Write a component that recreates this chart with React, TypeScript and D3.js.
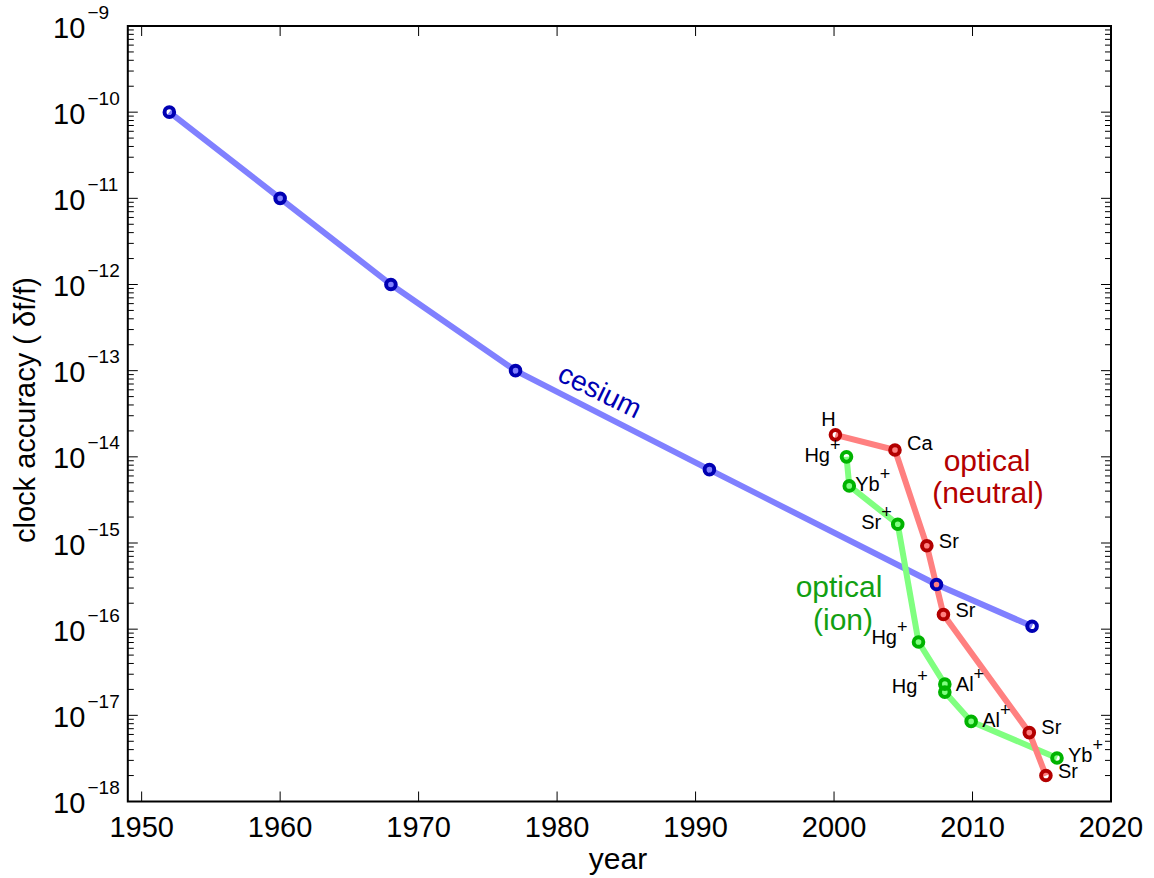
import React from "react";
import * as d3 from "d3";

// ---- data ----
const cesiumYears = [1952, 1960, 1968, 1977, 1991, 2007.4, 2014.3];
const cesiumVals = [1e-10, 1e-11, 1e-12, 1e-13, 7.1e-15, 3.3e-16, 1.08e-16];

const neutralYears = [2000.1, 2004.4, 2006.7, 2007.9, 2014.1, 2015.3];
const neutralVals = [1.8e-14, 1.2e-14, 9.3e-16, 1.48e-16, 6.3e-18, 2.0e-18];
const neutralLabels = ["H", "Ca", "Sr", "Sr", "Sr", "Sr"];

const ionYears = [2000.9, 2001.1, 2004.6, 2006.1, 2008.0, 2008.0, 2009.9, 2016.1];
const ionVals = [1.0e-14, 4.6e-15, 1.65e-15, 7.1e-17, 2.3e-17, 1.86e-17, 8.5e-18, 3.2e-18];
const ionLabels = ["Hg+", "Yb+", "Sr+", "Hg+", "Al+", "Hg+", "Al+", "Yb+"];

const xTicks = [1950, 1960, 1970, 1980, 1990, 2000, 2010, 2020];
const yExponents = [-9, -10, -11, -12, -13, -14, -15, -16, -17, -18];

// ---- label placement (pixel offsets from point) ----
const neutralLabelPos = [
  { dx: -7, dy: -9, anchor: "middle" },
  { dx: 12, dy: 0, anchor: "start" },
  { dx: 12, dy: 2, anchor: "start" },
  { dx: 12, dy: 3, anchor: "start" },
  { dx: 12, dy: 1, anchor: "start" },
  { dx: 12, dy: 2, anchor: "start" },
];
const ionLabelPos = [
  { dx: -6, dy: 5, anchor: "end" },
  { dx: 6, dy: 5, anchor: "start" },
  { dx: -6, dy: 5, anchor: "end" },
  { dx: -11, dy: 2, anchor: "end" },
  { dx: 11, dy: 7, anchor: "start" },
  { dx: -17, dy: 1, anchor: "end" },
  { dx: 11, dy: 6, anchor: "start" },
  { dx: 11, dy: 4, anchor: "start" },
];

const W = 1154;
const H = 878;
const left = 127.8;
const right = 1111;
const top = 26;
const bottom = 801.5;

const FONT = "'Liberation Sans', Arial, Helvetica, sans-serif";

const x = d3.scaleLinear().domain([1949, 2020]).range([left, right]);
const y = d3.scaleLog().domain([1e-18, 1e-9]).range([bottom, top]);

const line = d3
  .line<[number, number]>()
  .x((d) => x(d[0]))
  .y((d) => y(d[1]));

const zip = (a: number[], b: number[]) => a.map((v, i) => [v, b[i]] as [number, number]);

const cesium = zip(cesiumYears, cesiumVals);
const neutral = zip(neutralYears, neutralVals);
const ion = zip(ionYears, ionVals);

const BLUE_L = "#8080ff";
const BLUE_M = "#0000b3";
const RED_L = "#ff8080";
const RED_M = "#b30000";
const GREEN_L = "#80ff80";
const GREEN_M = "#00b300";
const GREEN_T = "#12a012";

function Label({ px, py, text, pos }: any) {
  const plus = text.endsWith("+");
  const base = plus ? text.slice(0, -1) : text;
  return (
    <text
      x={px + pos.dx}
      y={py + pos.dy}
      textAnchor={pos.anchor}
      fontFamily={FONT}
      fontSize={20}
      fill="#000"
    >
      {base}
      {plus && (
        <tspan dy={-11} fontSize={18}>
          +
        </tspan>
      )}
    </text>
  );
}

export default function App() {
  const minorTicks: number[] = [];
  for (let e = -18; e < -9; e++) {
    for (let m = 2; m <= 9; m++) minorTicks.push(m * Math.pow(10, e));
  }
  const R = 4.8;
  const SW = 4;
  return (
    <svg width={W} height={H} style={{ position: "absolute", left: 0, top: 0, background: "#fff" }}>
      <rect x={0} y={0} width={W} height={H} fill="#fff" />
      {/* lines */}
      <path d={line(cesium) || ""} fill="none" stroke={BLUE_L} strokeWidth={6} strokeLinejoin="round" />
      <path d={line(ion) || ""} fill="none" stroke={GREEN_L} strokeWidth={6} strokeLinejoin="round" />
      <path d={line(neutral) || ""} fill="none" stroke={RED_L} strokeWidth={6} strokeLinejoin="round" />
      {/* markers */}
      {cesium.map((d, i) => (
        <circle key={"c" + i} cx={x(d[0])} cy={y(d[1])} r={R} fill="none" stroke={BLUE_M} strokeWidth={SW} />
      ))}
      {ion.map((d, i) => (
        <circle key={"i" + i} cx={x(d[0])} cy={y(d[1])} r={R} fill="none" stroke={GREEN_M} strokeWidth={SW} />
      ))}
      {neutral.map((d, i) => (
        <circle key={"n" + i} cx={x(d[0])} cy={y(d[1])} r={R} fill="none" stroke={RED_M} strokeWidth={SW} />
      ))}
      {/* point labels */}
      {neutral.map((d, i) => (
        <Label key={"nl" + i} px={x(d[0])} py={y(d[1])} text={neutralLabels[i]} pos={neutralLabelPos[i]} />
      ))}
      {ion.map((d, i) => (
        <Label key={"il" + i} px={x(d[0])} py={y(d[1])} text={ionLabels[i]} pos={ionLabelPos[i]} />
      ))}
      {/* series labels */}
      <text
        transform="translate(600,391) rotate(26)"
        textAnchor="middle"
        dominantBaseline="central"
        fontFamily={FONT}
        fontSize={28}
        fill={BLUE_M}
      >
        cesium
      </text>
      <text x={987} y={471} textAnchor="middle" fontFamily={FONT} fontSize={30} fill={RED_M}>
        optical
      </text>
      <text x={988} y={503} textAnchor="middle" fontFamily={FONT} fontSize={30} fill={RED_M}>
        (neutral)
      </text>
      <text x={839} y={597} textAnchor="middle" fontFamily={FONT} fontSize={30} fill={GREEN_T}>
        optical
      </text>
      <text x={843} y={630} textAnchor="middle" fontFamily={FONT} fontSize={30} fill={GREEN_T}>
        (ion)
      </text>
      {/* ticks */}
      {xTicks.map((t) => (
        <g key={"xt" + t}>
          <line x1={x(t)} x2={x(t)} y1={bottom} y2={bottom - 10} stroke="#000" strokeWidth={1} />
          <line x1={x(t)} x2={x(t)} y1={top} y2={top + 10} stroke="#000" strokeWidth={1} />
          <text x={x(t)} y={837} textAnchor="middle" fontFamily={FONT} fontSize={29} fill="#000">
            {t}
          </text>
        </g>
      ))}
      {yExponents.map((e) => {
        const v = Math.pow(10, e);
        const yy = y(v);
        return (
          <g key={"yt" + e}>
            <line x1={left} x2={left + 10} y1={yy} y2={yy} stroke="#000" strokeWidth={1} />
            <line x1={right} x2={right - 10} y1={yy} y2={yy} stroke="#000" strokeWidth={1} />
            <text x={53} y={yy + 11.5} fontFamily={FONT} fontSize={29} fill="#000">
              10
            </text>
            <text x={87.5} y={yy - 7.5} fontFamily={FONT} fontSize={19} fill="#000">
              {"\u2212" + Math.abs(e)}
            </text>
          </g>
        );
      })}
      {minorTicks.map((v, i) => (
        <g key={"mt" + i}>
          <line x1={left} x2={left + 6} y1={y(v)} y2={y(v)} stroke="#000" strokeWidth={1} />
          <line x1={right} x2={right - 6} y1={y(v)} y2={y(v)} stroke="#000" strokeWidth={1} />
        </g>
      ))}
      {/* frame */}
      <rect x={left} y={top} width={right - left} height={bottom - top} fill="none" stroke="#000" strokeWidth={2} />
      {/* axis titles */}
      <text x={618} y={869} textAnchor="middle" fontFamily={FONT} fontSize={30} fill="#000">
        year
      </text>
      <text
        transform="translate(35,410) rotate(-90)"
        textAnchor="middle"
        fontFamily={FONT}
        fontSize={29}
        fill="#000"
      >
        clock accuracy ( δf/f)
      </text>
    </svg>
  );
}
